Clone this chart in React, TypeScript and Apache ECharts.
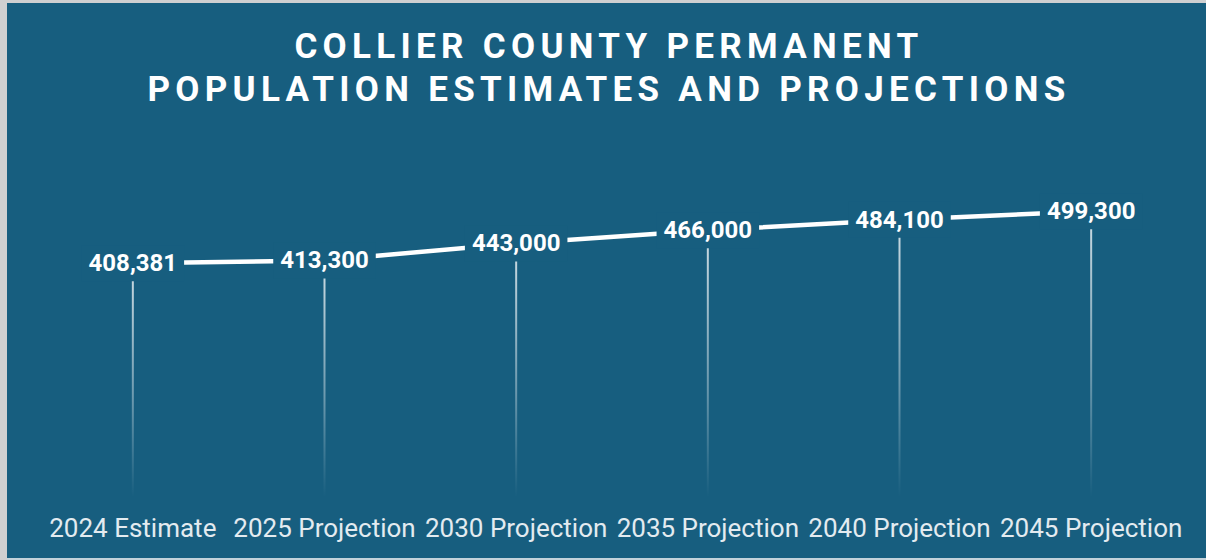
import React, { useEffect, useRef } from "react";
import * as echarts from "echarts";

const categories = [
  "2024 Estimate",
  "2025 Projection",
  "2030 Projection",
  "2035 Projection",
  "2040 Projection",
  "2045 Projection",
];
const population = [408381, 413300, 443000, 466000, 484100, 499300];
const titleLines = ["COLLIER COUNTY PERMANENT", "POPULATION ESTIMATES AND PROJECTIONS"];

const BG = "#175e7f";

export default function App() {
  const ref = useRef<HTMLDivElement>(null);
  useEffect(() => {
    if (!ref.current) return;
    const chart = echarts.init(ref.current, undefined, { renderer: "svg" });
    chart.setOption({
      animation: false,
      backgroundColor: "transparent",
      grid: { left: 30, right: 19, top: 36, bottom: 61 },
      xAxis: {
        type: "category",
        data: categories,
        boundaryGap: true,
        axisLine: { show: false },
        axisTick: { show: false },
        axisLabel: {
          color: "#e3ebf0",
          fontFamily: "Roboto",
          fontSize: 26,
          margin: 18,
          interval: 0,
        },
      },
      yAxis: {
        type: "value",
        min: 0,
        max: 800000,
        show: false,
        splitLine: { show: false },
      },
      series: [
        {
          type: "bar",
          data: population,
          barWidth: 2,
          z: 1,
          itemStyle: {
            color: new echarts.graphic.LinearGradient(0, 0, 0, 1, [
              { offset: 0, color: "rgba(255,255,255,0.8)" },
              { offset: 0.6, color: "rgba(255,255,255,0.35)" },
              { offset: 1, color: "rgba(255,255,255,0)" },
            ]),
          },
          emphasis: { disabled: true },
        },
        {
          type: "line",
          data: population,
          z: 3,
          symbol: "circle",
          symbolSize: 1,
          itemStyle: { color: BG },
          lineStyle: { color: "#ffffff", width: 4.5 },
          label: {
            show: true,
            position: "inside",
            color: "#ffffff",
            fontFamily: "Roboto",
            fontWeight: "bold",
            fontSize: 24,
            backgroundColor: BG,
            padding: [6, 7],
            formatter: (p: any) => Number(p.value).toLocaleString("en-US"),
          },
          emphasis: { disabled: true },
        },
      ],
    });
    return () => chart.dispose();
  }, []);

  return (
    <div
      style={{
        position: "fixed",
        left: 0,
        top: 0,
        width: 1206,
        height: 560,
        background: "#cfd0d1",
        overflow: "hidden",
      }}
    >
      <div
        style={{
          position: "absolute",
          left: 7,
          top: 3,
          width: 1199,
          height: 557,
          background: "#c3d2da",
        }}
      />
      <div
        style={{
          position: "absolute",
          left: 7,
          top: 3,
          width: 1199,
          height: 555,
          background: BG,
        }}
      >
        <div ref={ref} style={{ position: "absolute", left: 0, top: 0, width: 1199, height: 555 }} />
        <div
          style={{
            position: "absolute",
            left: 0,
            top: 22,
            width: 1199,
            textAlign: "center",
            color: "#ffffff",
            fontFamily: "Roboto",
            fontWeight: 700,
            fontSize: 35,
            lineHeight: "43px",
            letterSpacing: "5.3px",
            paddingLeft: 5,
            boxSizing: "border-box",
            pointerEvents: "none",
          }}
        >
          {titleLines.map((t) => (
            <div key={t}>{t}</div>
          ))}
        </div>
      </div>
    </div>
  );
}
